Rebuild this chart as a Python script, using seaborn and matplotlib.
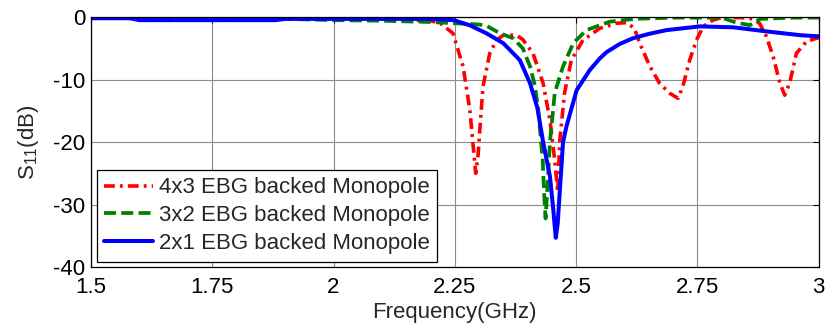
import matplotlib
matplotlib.use("Agg")
import matplotlib.pyplot as plt
import seaborn as sns
import pandas as pd

# Measured return loss of the monopole backed by EBG arrays of different sizes
freq_4x3 = [1.5, 1.6, 1.8, 2.0, 2.1, 2.2, 2.22, 2.246, 2.267, 2.281, 2.287, 2.293,
            2.298, 2.302, 2.308, 2.322, 2.336, 2.35, 2.377, 2.39, 2.411, 2.432,
            2.446, 2.456, 2.462, 2.466, 2.476, 2.49, 2.514, 2.549, 2.583, 2.604,
            2.62, 2.631, 2.652, 2.672, 2.693, 2.71, 2.72, 2.734, 2.748, 2.762,
            2.782, 2.80, 2.84, 2.865, 2.878, 2.892, 2.906, 2.92, 2.93, 2.94,
            2.954, 2.975, 3.0]
s11_4x3 = [-0.1, -0.2, -0.2, -0.2, -0.3, -0.6, -1.0, -2.6, -7.9, -14.9, -20.0, -25.0,
           -22.0, -17.5, -11.1, -5.8, -3.7, -2.9, -2.9, -3.6, -5.8, -10.6,
           -16.5, -23.0, -28.0, -20.0, -12.2, -6.9, -3.7, -1.8, -1.0, -0.9,
           -1.8, -4.2, -7.9, -10.6, -12.2, -13.0, -11.1, -6.9, -3.7, -1.5,
           -0.5, -0.1, -0.1, -0.3, -1.0, -3.1, -6.3, -10.6, -12.5, -10.6,
           -5.8, -3.9, -3.3]

freq_3x2 = [1.5, 1.7, 1.9, 2.0, 2.1, 2.2, 2.25, 2.3, 2.315, 2.343, 2.37, 2.39,
            2.405, 2.415, 2.422, 2.431, 2.434, 2.437, 2.441, 2.446, 2.456, 2.473,
            2.494, 2.521, 2.569, 2.62, 2.7, 2.8, 2.83, 2.858, 2.88, 2.95, 3.0]
s11_3x2 = [-0.1, -0.1, -0.3, -0.5, -0.6, -0.8, -1.0, -1.2, -1.4, -2.6, -3.4, -5.0,
           -7.9, -11.0, -14.9, -22.8, -28.2, -32.2, -27.0, -20.0, -12.1, -7.9,
           -4.2, -2.1, -0.75, -0.3, -0.1, -0.1, -0.9, -1.3, -0.3, -0.1, -0.1]

freq_2x1 = [1.5, 1.58, 1.6, 1.88, 1.9, 2.0, 2.1, 2.2, 2.247, 2.28, 2.315, 2.35,
            2.384, 2.405, 2.42, 2.432, 2.446, 2.453, 2.458, 2.462, 2.466, 2.473,
            2.48, 2.501, 2.528, 2.549, 2.563, 2.59, 2.617, 2.65, 2.686, 2.755,
            2.824, 2.892, 2.961, 3.0]
s11_2x1 = [-0.2, -0.2, -0.5, -0.5, -0.3, -0.3, -0.3, -0.3, -0.5, -1.3, -2.6, -4.2,
           -6.9, -10.6, -14.5, -20.0, -25.5, -30.9, -35.3, -33.0, -28.2, -20.0,
           -17.5, -11.7, -8.5, -6.6, -5.6, -4.3, -3.4, -2.7, -2.1, -1.5,
           -1.65, -2.3, -2.9, -3.1]

labels = ["4x3 EBG backed Monopole", "3x2 EBG backed Monopole", "2x1 EBG backed Monopole"]
x_ticks = [1.5, 1.75, 2.0, 2.25, 2.5, 2.75, 3.0]
x_tick_labels = ["1.5", "1.75", "2", "2.25", "2.5", "2.75", "3"]
y_ticks = [-40, -30, -20, -10, 0]
y_tick_labels = ["-40", "-30", "-20", "-10", "0"]

FS = 16

sns.set_style("white")
plt.rcParams["font.family"] = ["Liberation Sans", "DejaVu Sans"]
plt.rcParams["mathtext.fontset"] = "custom"
plt.rcParams["mathtext.rm"] = "Liberation Sans"
plt.rcParams["mathtext.it"] = "Liberation Sans"
plt.rcParams["mathtext.default"] = "regular"

fig = plt.figure(figsize=(8.27, 3.27), dpi=100)
ax = fig.add_axes([0.110, 0.183, 0.880, 0.765])

ax.grid(True, color="#8c8c8c", linewidth=0.8, zorder=0)
ax.set_axisbelow(True)

series = [
    (freq_4x3, s11_4x3, labels[0], "#ff0000", (0, (3.0, 1.4, 0.8, 1.4)), 2.6),
    (freq_3x2, s11_3x2, labels[1], "#008000", (0, (3.2, 1.4)), 2.7),
    (freq_2x1, s11_2x1, labels[2], "#0000ff", "-", 2.9),
]
for f, s, lab, col, ls, lw in series:
    df = pd.DataFrame({"Frequency": f, "S11": s})
    sns.lineplot(data=df, x="Frequency", y="S11", ax=ax, color=col,
                 linestyle=ls, linewidth=lw, label=lab, sort=False)

ax.set_xlim(1.5, 3.0)
ax.set_ylim(-40, 0)
ax.set_xticks(x_ticks)
ax.set_xticklabels(x_tick_labels)
ax.set_yticks(y_ticks)
ax.set_yticklabels(y_tick_labels)
ax.tick_params(direction="in", length=4, width=0.8, top=True, right=True,
               labelsize=FS, colors="black")
ax.tick_params(axis="x", pad=7)
ax.tick_params(axis="y", pad=4)
for sp in ax.spines.values():
    sp.set_visible(True)
    sp.set_color("black")
    sp.set_linewidth(0.9)

ax.set_xlabel("Frequency(GHz)", fontsize=FS, labelpad=3)
ax.set_ylabel(r"S$_{11}$(dB)", fontsize=FS, labelpad=9)

leg = ax.legend(loc="lower left", fontsize=FS, frameon=True, fancybox=False,
                edgecolor="black", framealpha=1, handlelength=2.2,
                handletextpad=0.25, labelspacing=0.3, borderpad=0.35,
                borderaxespad=0.25)
leg.get_frame().set_linewidth(0.9)

fig.savefig("out.png", dpi=100)
